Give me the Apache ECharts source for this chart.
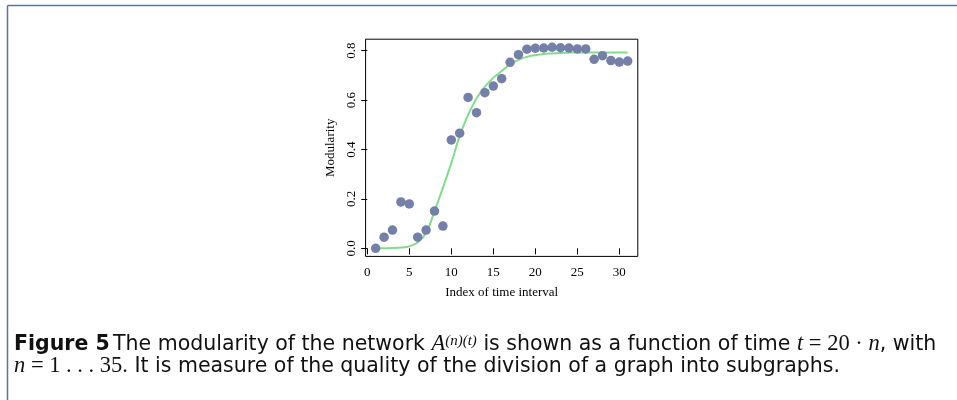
<!DOCTYPE html>
<html>
<head>
<meta charset="utf-8">
<script src="https://cdn.jsdelivr.net/npm/echarts@6/dist/echarts.min.js"></script>
<style>html,body{margin:0;padding:0;background:#fff;}#c{width:957px;height:400px;}</style>
</head>
<body>
<div id="c"></div>
<script>
// ---- data ----
const timeIndex = [1,2,3,4,5,6,7,8,9,10,11,12,13,14,15,16,17,18,19,20,21,22,23,24,25,26,27,28,29,30,31];
const modularity = [0.000,0.045,0.074,0.188,0.180,0.045,0.074,0.151,0.090,0.439,0.466,0.611,0.549,0.630,0.657,0.687,0.753,0.784,0.806,0.810,0.811,0.814,0.812,0.811,0.807,0.807,0.765,0.780,0.760,0.754,0.758];
const fitX = [1,2,3,4,5,6,7,8,9,10,11,12,13,14,15,16,17,18,19,20,21,22,23,24,25,26,27,28,29,30,31];
const fitY = [0.000,0.000,0.001,0.003,0.008,0.024,0.062,0.150,0.245,0.345,0.455,0.540,0.607,0.655,0.690,0.718,0.745,0.763,0.775,0.782,0.787,0.789,0.791,0.792,0.793,0.793,0.793,0.793,0.793,0.793,0.793];
const xTicks = [0,5,10,15,20,25,30];
const yTicks = [0.0,0.2,0.4,0.6,0.8];
const xTitle = 'Index of time interval';
const yTitle = 'Modularity';

const serif = '"Liberation Serif", "DejaVu Serif", serif';
const sans = '"DejaVu Sans", "Liberation Sans", sans-serif';

const chart = echarts.init(document.getElementById('c'), null, {renderer: 'canvas'});
const capSize = 20.5;
chart.setOption({
  animation: false,
  backgroundColor: '#fff',
  grid: {left: 365.6, top: 39.2, width: 272.2, height: 217.2, show: true, borderColor: '#000', borderWidth: 1, backgroundColor: 'transparent'},
  xAxis: {
    type: 'value', min: -0.2, max: 32.2,
    name: xTitle, nameLocation: 'middle', nameGap: 30,
    nameTextStyle: {fontFamily: serif, fontSize: 13, color: '#000'},
    axisLine: {show: false},
    axisTick: {show: true, inside: false, length: 6, customValues: xTicks, lineStyle: {color: '#000', width: 1}},
    axisLabel: {customValues: xTicks, fontFamily: serif, fontSize: 13, color: '#000', margin: 10},
    splitLine: {show: false}
  },
  yAxis: {
    type: 'value', min: -0.0326, max: 0.8466,
    name: yTitle, nameLocation: 'middle', nameGap: 29, nameRotate: 90,
    nameTextStyle: {fontFamily: serif, fontSize: 13, color: '#000'},
    axisLine: {show: false},
    axisTick: {show: true, inside: false, length: 6, customValues: yTicks, lineStyle: {color: '#000', width: 1}},
    axisLabel: {customValues: yTicks, rotate: 90, fontFamily: serif, fontSize: 13, color: '#000', margin: 8,
      formatter: v => Number(v).toFixed(1)},
    splitLine: {show: false}
  },
  series: [
    {
      type: 'line', data: fitX.map((x, i) => [x, fitY[i]]), smooth: 0.35, showSymbol: false,
      lineStyle: {color: '#86d98d', width: 2}, z: 2
    },
    {
      type: 'scatter', data: timeIndex.map((x, i) => [x, modularity[i]]), symbolSize: 9.5,
      itemStyle: {color: '#7580a9', opacity: 1}, z: 3
    }
  ],
  graphic: [
    {type: 'line', shape: {x1: 7.5, y1: 5.5, x2: 957, y2: 5.5}, style: {stroke: '#5f7395', lineWidth: 1.5}},
    {type: 'line', shape: {x1: 7.5, y1: 5.5, x2: 7.5, y2: 400}, style: {stroke: '#5f7395', lineWidth: 1.5}},
    {
      type: 'text', left: 14, top: 333,
      style: {
        text: '{b|Figure 5} {r|The modularity of the network }{mi|A}{si|(n)(t)}{r| is shown as a function of time }{mi|t}{mr| = 20 · }{mi|n}{r|, with}\n{mi|n}{mr| = 1 . . . 35.}{r| It is measure of the quality of the division of a graph into subgraphs.}',
        rich: {
          b: {fontFamily: sans, fontWeight: 'bold', fontSize: capSize, fill: '#111', lineHeight: 22},
          r: {fontFamily: sans, fontSize: capSize, fill: '#111', lineHeight: 22},
          mi: {fontFamily: serif, fontStyle: 'italic', fontSize: capSize + 2, fill: '#111', lineHeight: 22},
          mr: {fontFamily: serif, fontSize: capSize + 2, fill: '#111', lineHeight: 22},
          si: {fontFamily: serif, fontStyle: 'italic', fontSize: 15, fill: '#111', lineHeight: 22, verticalAlign: 'top'}
        }
      }
    }
  ]
});
</script>
</body>
</html>
